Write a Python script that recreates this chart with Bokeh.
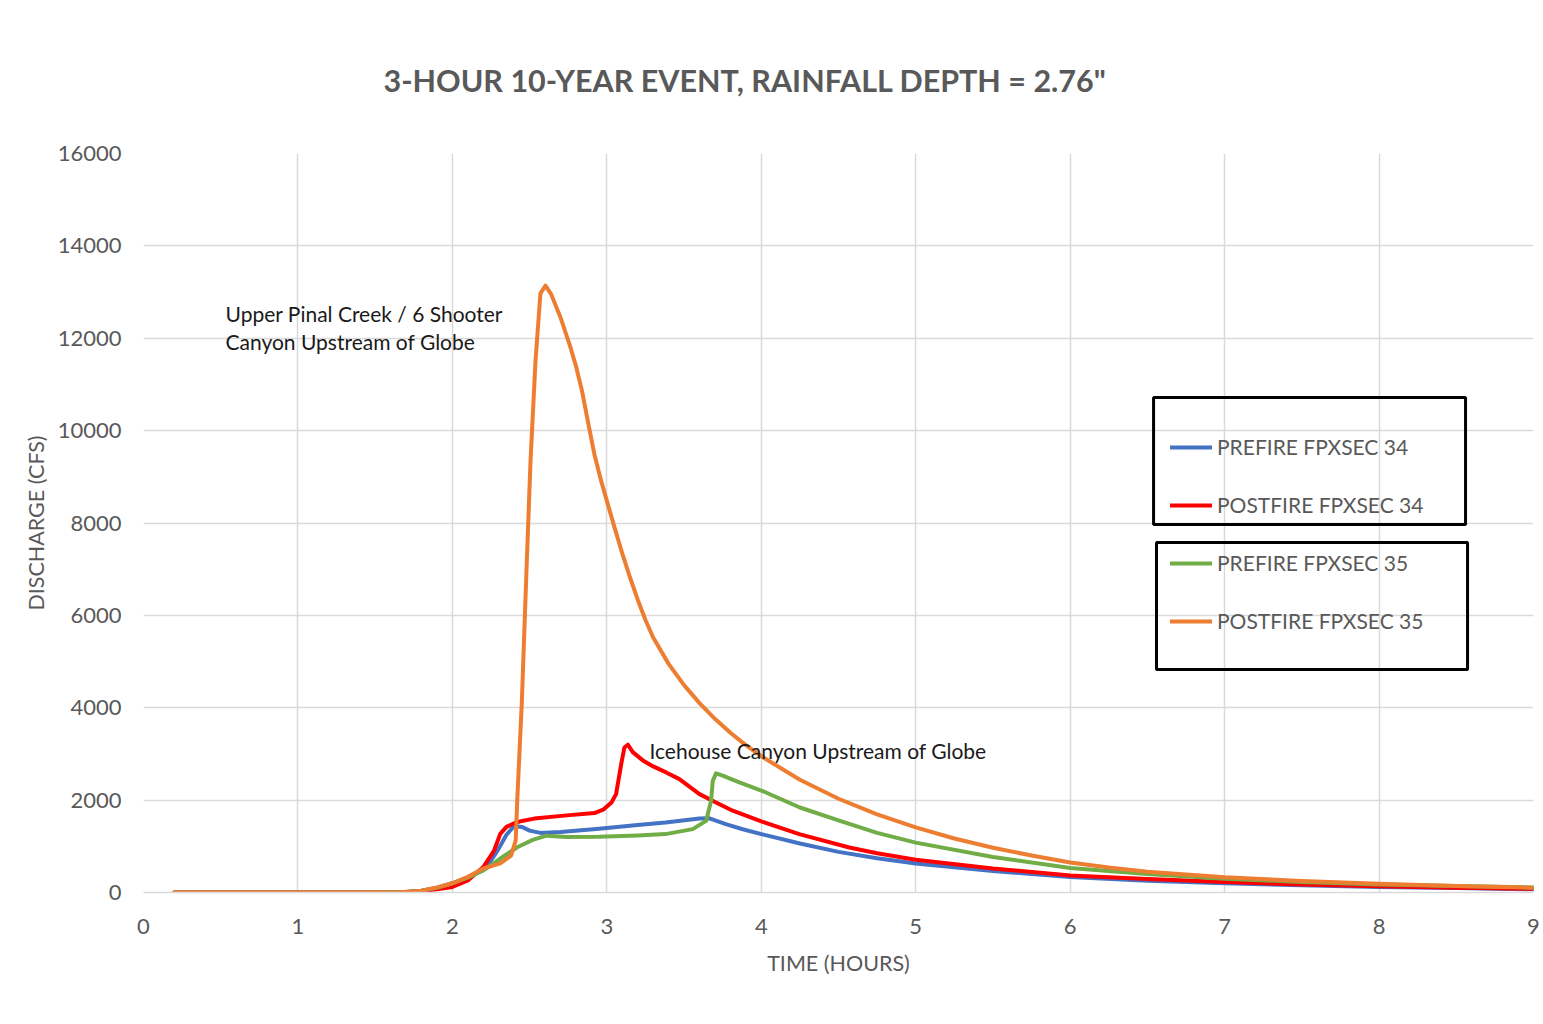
from bokeh.plotting import figure
from bokeh.models import Range1d, Label, Legend, LegendItem, BoxAnnotation, FixedTicker
from bokeh.embed import file_html
from bokeh.resources import INLINE

# ---------------- data ----------------
t_pre34 = [0.2, 1.0, 1.5, 1.7, 1.8, 1.9, 2.0, 2.1, 2.2, 2.25, 2.3, 2.35, 2.4, 2.45, 2.5, 2.57, 2.7,
           2.95, 3.2, 3.38, 3.6, 3.66, 3.77, 3.88, 4.0, 4.25, 4.5, 4.75, 5.0, 5.5, 6.0, 6.5, 7.0,
           7.5, 8.0, 8.5, 9.0]
q_pre34 = [0, 0, 0, 10, 40, 100, 200, 320, 500, 690, 950, 1250, 1440, 1420, 1340, 1290, 1310,
           1380, 1460, 1516, 1603, 1610, 1480, 1370, 1264, 1060, 880, 740, 630, 465, 335, 255, 200,
           155, 120, 95, 70]

t_post34 = [0.2, 1.0, 1.5, 1.7, 1.8, 1.9, 2.0, 2.1, 2.2, 2.27, 2.31, 2.35, 2.4, 2.45, 2.53, 2.74,
            2.92, 2.98, 3.03, 3.06, 3.093, 3.114, 3.136, 3.168, 3.233, 3.3, 3.384, 3.47, 3.6, 3.707,
            3.815, 4.0, 4.246, 4.57, 4.75, 5.0, 5.5, 6.0, 6.5, 7.0, 7.5, 8.0, 8.5, 9.0]
q_post34 = [0, 0, 0, 5, 30, 70, 120, 260, 550, 910, 1270, 1420, 1500, 1550, 1600, 1670,
            1720, 1800, 1950, 2130, 2780, 3140, 3200, 3040, 2860, 2730, 2600, 2455, 2130, 1950,
            1770, 1540, 1264, 975, 850, 710, 520, 370, 290, 225, 175, 135, 105, 80]

t_pre35 = [0.2, 1.0, 1.5, 1.7, 1.8, 1.9, 2.0, 2.1, 2.2, 2.25, 2.33, 2.42, 2.52, 2.61, 2.74, 2.95,
           3.2, 3.38, 3.556, 3.643, 3.675, 3.686, 3.707, 3.75, 3.858, 4.03, 4.25, 4.5, 4.75, 5.0,
           5.5, 6.0, 6.5, 7.0, 7.5, 8.0, 8.5, 9.0]
q_pre35 = [0, 0, 0, 10, 40, 100, 200, 320, 480, 585, 780, 980, 1140, 1230, 1200, 1206,
           1235, 1264, 1372, 1550, 1985, 2420, 2580, 2530, 2383, 2166, 1840, 1560, 1290, 1080,
           770, 530, 400, 300, 230, 175, 140, 110]

t_post35 = [0.2, 1.0, 1.5, 1.66, 1.8, 1.9, 2.0, 2.1, 2.2, 2.31, 2.38, 2.41, 2.42, 2.45, 2.48, 2.506,
            2.538, 2.57, 2.603, 2.64, 2.70, 2.76, 2.80, 2.84, 2.88, 2.92, 2.96, 3.0, 3.05, 3.10,
            3.15, 3.20, 3.25, 3.30, 3.40, 3.50, 3.60, 3.70, 3.80, 3.90, 4.0, 4.25, 4.5, 4.75, 5.0,
            5.25, 5.5, 5.75, 6.0, 6.25, 6.5, 7.0, 7.5, 8.0, 8.5, 9.0]
q_post35 = [0, 0, 0, 5, 40, 110, 200, 340, 520, 630, 800, 1130, 2000, 4150, 7000, 9350,
            11500, 12970, 13140, 12950, 12450, 11850, 11400, 10850, 10150, 9480, 8950, 8480, 7900,
            7340, 6820, 6340, 5900, 5520, 4950, 4490, 4100, 3760, 3460, 3190, 2950, 2440, 2030,
            1690, 1410, 1170, 970, 800, 650, 540, 450, 330, 250, 190, 140, 105]

series_names = ["PREFIRE FPXSEC 34", "POSTFIRE FPXSEC 34", "PREFIRE FPXSEC 35", "POSTFIRE FPXSEC 35"]
series_colors = ["#4472C4", "#FF0000", "#70AD47", "#ED7D31"]
x_ticks = [0, 1, 2, 3, 4, 5, 6, 7, 8, 9]
y_ticks = [0, 2000, 4000, 6000, 8000, 10000, 12000, 14000, 16000]

FONT = "Lato"
GRAY = "#595959"

p = figure(width=1543, height=1024, output_backend="svg", toolbar_location=None,
           x_range=Range1d(0, 9), y_range=Range1d(0, 16000),
           min_border_left=143, min_border_right=10, min_border_top=153, min_border_bottom=132)
p.outline_line_color = None
p.background_fill_color = "white"
p.border_fill_color = "white"

p.title.text = '3-HOUR 10-YEAR EVENT, RAINFALL DEPTH = 2.76"'
p.title.align = "left"
p.title.offset = 240
p.title.text_font = FONT
p.title.text_font_style = "bold"
p.title.text_font_size = "30.5px"
p.title.text_color = GRAY
p.title.standoff = 112

p.xgrid.ticker = FixedTicker(ticks=x_ticks)
p.ygrid.ticker = FixedTicker(ticks=y_ticks)
for g in (p.xgrid, p.ygrid):
    g.grid_line_color = "#d9d9d9"
    g.grid_line_width = 1.5

p.xaxis.ticker = FixedTicker(ticks=x_ticks)
p.yaxis.ticker = FixedTicker(ticks=y_ticks)
for ax in (p.xaxis, p.yaxis):
    ax.major_tick_line_color = None
    ax.minor_tick_line_color = None
    ax.major_label_text_font = FONT
    ax.major_label_text_font_size = "22px"
    ax.major_label_text_color = GRAY
    ax.axis_label_text_font = FONT
    ax.axis_label_text_font_size = "21.5px"
    ax.axis_label_text_color = GRAY
    ax.axis_label_text_font_style = "normal"
p.xaxis.axis_line_color = "#d9d9d9"
p.xaxis.axis_line_width = 1.5
p.yaxis.axis_line_color = None
p.xaxis.major_label_standoff = 20
p.yaxis.major_label_standoff = 16
p.xaxis.axis_label = "TIME (HOURS)"
p.yaxis.axis_label = "DISCHARGE (CFS)"
p.xaxis.axis_label_standoff = 13
p.yaxis.axis_label_standoff = 6

data = [(t_pre34, q_pre34), (t_post34, q_post34), (t_pre35, q_pre35), (t_post35, q_post35)]
renderers = []
for (tx, qy), c in zip(data, series_colors):
    r = p.line(tx, qy, line_color=c, line_width=4, line_join="round", line_cap="round")
    renderers.append(r)

legend = Legend(items=[LegendItem(label=n, renderers=[r]) for n, r in zip(series_names, renderers)],
                location=(1027, 259), glyph_width=42, glyph_height=20, label_height=20,
                label_standoff=5, spacing=33, padding=0, margin=0,
                border_line_color=None, background_fill_alpha=0,
                label_text_font=FONT, label_text_font_size="21px", label_text_color=GRAY)
p.add_layout(legend, "center")

p.add_layout(BoxAnnotation(left=6.540, right=8.560, bottom=7967, top=10717,
                           fill_color=None, fill_alpha=0, line_color="black", line_alpha=1.0,
                           line_width=3))
p.add_layout(BoxAnnotation(left=6.559, right=8.573, bottom=4828, top=7578,
                           fill_color=None, fill_alpha=0, line_color="black", line_alpha=1.0,
                           line_width=3))

for txt, yv in (("Upper Pinal Creek / 6 Shooter", 12536), ("Canyon Upstream of Globe", 11930)):
    p.add_layout(Label(x=0.531, y=yv, text=txt, text_align="left", text_baseline="middle",
                       text_font=FONT, text_font_size="21px", text_color="#1a1a1a"))
p.add_layout(Label(x=3.276, y=3074, text="Icehouse Canyon Upstream of Globe", text_align="left",
                   text_baseline="middle", text_font=FONT, text_font_size="21px", text_color="#1a1a1a"))

open("out.html", "w").write(file_html(p, INLINE))
